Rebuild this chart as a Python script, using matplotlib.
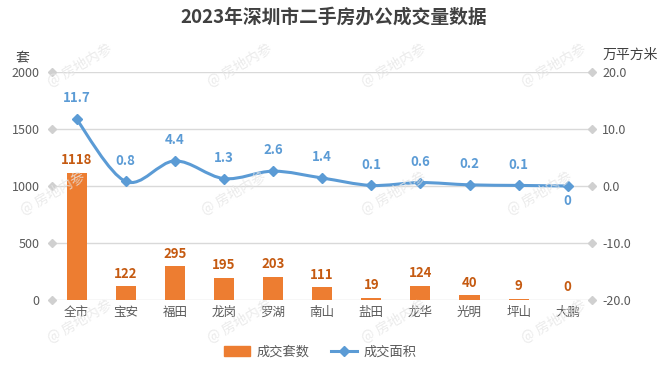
import matplotlib
matplotlib.use('Agg')
import matplotlib.pyplot as plt
from matplotlib.path import Path
from matplotlib.patches import PathPatch
from matplotlib.lines import Line2D
from matplotlib.patches import Patch
import numpy as np

plt.rcParams['font.family'] = ['Noto Sans CJK SC', 'DejaVu Sans']

# data
districts = ['全市', '宝安', '福田', '龙岗', '罗湖', '南山', '盐田', '龙华', '光明', '坪山', '大鹏']
units = [1118, 122, 295, 195, 203, 111, 19, 124, 40, 9, 0]
area = [11.7, 0.8, 4.4, 1.3, 2.6, 1.4, 0.1, 0.6, 0.2, 0.1, 0]
area_labels = ['11.7', '0.8', '4.4', '1.3', '2.6', '1.4', '0.1', '0.6', '0.2', '0.1', '0']
left_ticks = [0, 500, 1000, 1500, 2000]
right_ticks = [-20, -10, 0, 10, 20]

bar_color = '#ED7D31'
line_color = '#5B9BD5'
grid_color = '#D9D9D9'
text_gray = '#595959'

fig = plt.figure(figsize=(6.67, 3.87), dpi=100)
ax = fig.add_axes([0.078, 0.2248, 0.81, 0.5892])
ax2 = ax.twinx()

x = np.arange(len(districts))
ax.bar(x, units, width=0.41, color=bar_color, zorder=2)
ax.set_xlim(-0.5, len(districts) - 0.5)
ax.set_ylim(0, 2000)
ax2.set_ylim(-20, 20)

for v in left_ticks:
    ax.axhline(v, color=grid_color, lw=1, zorder=0)

ax.set_yticks(left_ticks)
ax.set_yticklabels([str(v) for v in left_ticks], color=text_gray, fontsize=9)
ax2.set_yticks(right_ticks)
ax2.set_yticklabels(['%.1f' % v for v in right_ticks], color=text_gray, fontsize=9)
ax.tick_params(axis='y', length=0, pad=9)
ax2.tick_params(axis='y', length=0, pad=7)
ax.set_xticks(x)
ax.set_xticklabels(districts, color=text_gray, fontsize=9)
ax.tick_params(axis='x', length=0, pad=4)
for a in (ax, ax2):
    for s in a.spines.values():
        s.set_visible(False)

# diamond tick markers on both sides
ax.plot([-0.5] * len(left_ticks), left_ticks, 'D', color='#D0D0D0', ms=4,
        clip_on=False, zorder=3)
ax.plot([len(districts) - 0.5] * len(left_ticks), left_ticks, 'D', color='#D0D0D0', ms=4,
        clip_on=False, zorder=3)

# smooth line through the points (cubic bezier segments)
pts = np.column_stack([x, area]).astype(float)
verts = [tuple(pts[0])]
codes = [Path.MOVETO]
t = 0.5
for i in range(len(pts) - 1):
    p0 = pts[i - 1] if i > 0 else pts[i]
    p1 = pts[i]
    p2 = pts[i + 1]
    p3 = pts[i + 2] if i + 2 < len(pts) else pts[i + 1]
    c1 = p1 + (p2 - p0) * t / 3
    c2 = p2 - (p3 - p1) * t / 3
    verts += [tuple(c1), tuple(c2), tuple(p2)]
    codes += [Path.CURVE4] * 3
ax2.add_patch(PathPatch(Path(verts, codes), fill=False, edgecolor=line_color, lw=2.2, zorder=4))
ax2.plot(x, area, 'D', color=line_color, ms=5, zorder=5)

# data labels
for xi, v in zip(x, units):
    ax.annotate(str(v), (xi, v), xytext=(0, 4), textcoords='offset points',
                ha='center', va='bottom', color='#C55A11', fontsize=9.5, fontweight='bold')
for xi, v, lab in zip(x, area, area_labels):
    if v == 0:
        ax2.annotate(lab, (xi, v), xytext=(0, -6), textcoords='offset points',
                     ha='center', va='top', color=line_color, fontsize=9.5, fontweight='bold')
    else:
        ax2.annotate(lab, (xi, v), xytext=(0, 10), textcoords='offset points',
                     ha='center', va='bottom', color=line_color, fontsize=9.5, fontweight='bold')

# titles / axis units
fig.text(0.5, 0.955, '2023年深圳市二手房办公成交量数据', ha='center', va='center',
         fontsize=13.5, fontweight='bold', color='#404040')
fig.text(0.033, 0.85, '套', ha='center', va='center', fontsize=10, color='#404040')
fig.text(0.945, 0.858, '万平方米', ha='center', va='center', fontsize=10, color='#404040')

# watermarks
wm_pos = [(0.12, 0.83), (0.36, 0.83), (0.59, 0.83), (0.83, 0.83),
          (0.08, 0.5), (0.35, 0.5), (0.59, 0.5), (0.81, 0.5),
          (0.12, 0.17), (0.36, 0.17), (0.59, 0.17), (0.83, 0.17)]
for wx, wy in wm_pos:
    fig.text(wx, wy, '@ 房地内参', rotation=30, ha='center', va='center',
             fontsize=10, color='#E6E6E6', alpha=0.8, zorder=0)

# legend
handles = [Patch(color=bar_color),
           Line2D([0], [0], color=line_color, lw=2.2, marker='D', ms=5)]
fig.legend(handles, ['成交套数', '成交面积'], loc='center', bbox_to_anchor=(0.48, 0.09),
           ncol=2, frameon=False, fontsize=9.5, labelcolor=text_gray,
           handlelength=2.0, handletextpad=0.5, columnspacing=1.6)

fig.savefig('out.png', dpi=100)
